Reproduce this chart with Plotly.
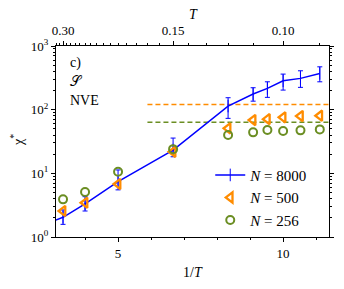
import plotly.graph_objects as go

# ---- data ----
invT_8000 = [3.0, 3.333, 4.0, 5.0, 6.667, 8.333, 9.091, 9.524, 10.0, 10.526, 11.111]
chi_8000 = [1.75, 2.04, 3.3, 7.4, 23.2, 114, 176, 216, 284, 310, 371]
chi_8000_hi = [2.2, 2.66, 4.3, 11.3, 35.8, 154, 221, 274, 362, 408, 471]
chi_8000_lo = [1.4, 1.58, 2.56, 5.5, 18.2, 73, 136, 156, 203, 224, 274]

invT_500 = [3.333, 4.0, 5.0, 6.667, 8.333, 9.091, 9.524, 10.0, 10.526, 11.111]
chi_500 = [2.56, 3.45, 6.8, 21.8, 50.9, 68.7, 71, 75.7, 79.4, 80.3]

invT_256 = [3.333, 4.0, 5.0, 6.667, 8.333, 9.091, 9.524, 10.0, 10.526, 11.111]
chi_256 = [3.9, 5.1, 10.6, 24.0, 39.9, 44.0, 47.9, 46.1, 47.3, 49.0]

plateau_x = [5.89, 11.39]
plateau_500 = [121, 121]
plateau_256 = [63.2, 63.2]

T_major = [0.30, 0.15, 0.10]
T_major_text = ["0.30", "0.15", "0.10"]
T_minor = [0.32, 0.31, 0.29, 0.28, 0.27, 0.26, 0.25, 0.24, 0.23, 0.22, 0.21, 0.20,
           0.19, 0.18, 0.17, 0.16, 0.14, 0.13, 0.12, 0.11, 0.09]

xrange_ = [3.12, 11.39]

BLUE = "#0000ff"
ORANGE = "#ff8c00"
GREEN = "#6b8e23"
FONT = "Liberation Serif"

fig = go.Figure()

fig.add_trace(go.Scatter(
    x=plateau_x, y=plateau_500, mode="lines", showlegend=False,
    line=dict(color=ORANGE, width=1.5, dash="5px,3px")))
fig.add_trace(go.Scatter(
    x=plateau_x, y=plateau_256, mode="lines", showlegend=False,
    line=dict(color=GREEN, width=1.5, dash="5px,3px")))

fig.add_trace(go.Scatter(
    x=invT_8000, y=chi_8000, mode="lines+markers", name="<i>N</i> = 8000",
    line=dict(color=BLUE, width=1.5),
    marker=dict(symbol="line-ns", size=9, line=dict(color=BLUE, width=1)),
    error_y=dict(type="data", symmetric=False,
                 array=[h - v for h, v in zip(chi_8000_hi, chi_8000)],
                 arrayminus=[v - l for l, v in zip(chi_8000_lo, chi_8000)],
                 color=BLUE, thickness=1, width=2.5)))
fig.add_trace(go.Scatter(
    x=invT_500, y=chi_500, mode="markers", name="<i>N</i> = 500",
    marker=dict(symbol="triangle-left-open", size=9, color=ORANGE,
                line=dict(color=ORANGE, width=2.3))))
fig.add_trace(go.Scatter(
    x=invT_256, y=chi_256, mode="markers", name="<i>N</i> = 256",
    marker=dict(symbol="circle-open", size=8, color=GREEN,
                line=dict(color=GREEN, width=2))))

# invisible trace for top axis
fig.add_trace(go.Scatter(x=xrange_, y=[1, 1], xaxis="x2", mode="lines",
                         line=dict(width=0), showlegend=False, hoverinfo="skip"))

# page body has an 8px default margin, so margins are shifted to compensate
fig.update_layout(
    width=344, height=289,
    margin=dict(l=48, r=23, t=38, b=60),
    paper_bgcolor="white", plot_bgcolor="white",
    font=dict(family=FONT, size=13, color="black"),
    showlegend=True,
    legend=dict(x=0.565, y=0.41, xanchor="left", yanchor="top",
                bgcolor="rgba(0,0,0,0)", font=dict(size=15),
                tracegroupgap=0),
    xaxis=dict(range=xrange_, showline=True, linecolor="black", linewidth=1,
               automargin=False,
               ticks="outside", ticklen=4, tickcolor="black",
               ticklabelstandoff=0,
               tickvals=[5, 10], ticktext=["5", "10"],
               minor=dict(tickvals=[3, 4, 6, 7, 8, 9, 11], ticks="outside",
                          ticklen=2, tickcolor="black", showgrid=False),
               showgrid=False, zeroline=False, mirror=False),
    xaxis2=dict(range=xrange_, overlaying="x", side="top", anchor="y",
                automargin=False,
                showline=True, linecolor="black", linewidth=1,
                ticks="outside", ticklen=4, tickcolor="black",
                ticklabelstandoff=1,
                tickvals=[1 / t for t in T_major], ticktext=T_major_text,
                minor=dict(tickvals=[1 / t for t in T_minor], ticks="outside",
                           ticklen=2, tickcolor="black", showgrid=False),
                showgrid=False, zeroline=False),
    yaxis=dict(type="log", range=[0, 3], showline=True, linecolor="black",
               linewidth=1, mirror="ticks", automargin=False,
               ticks="outside", ticklen=4, tickcolor="black",
               tickvals=[1, 10, 100, 1000],
               ticktext=["10<sup>0</sup>", "10<sup>1</sup>", "10<sup>2</sup>", "10<sup>3</sup>"],
               minor=dict(tickvals=[m * d for d in [1, 10, 100] for m in range(2, 10)],
                          ticks="outside", ticklen=2, tickcolor="black", showgrid=False),
               showgrid=False, zeroline=False),
)

def px(wx):
    return (wx - 56) / 273

def py(wy):
    return (237 - wy) / 191

for txt, yy in [("c)", 63), ("𝒮", 81), ("NVE", 100)]:
    fig.add_annotation(text=txt, xref="paper", yref="paper",
                       x=px(68), y=py(yy),
                       xanchor="left", yanchor="middle", showarrow=False,
                       font=dict(family=FONT, size=14, color="black"))

# axis titles
fig.add_annotation(text="<i>T</i>", xref="paper", yref="paper", x=px(193), y=py(14),
                   xanchor="center", yanchor="middle", showarrow=False,
                   font=dict(family=FONT, size=14, color="black"))
fig.add_annotation(text="1/<i>T</i>", xref="paper", yref="paper", x=px(193), y=py(272),
                   xanchor="center", yanchor="middle", showarrow=False,
                   font=dict(family=FONT, size=14, color="black"))
fig.add_annotation(text="χ<sup>*</sup>", xref="paper", yref="paper", x=px(17), y=py(140),
                   xanchor="center", yanchor="middle", showarrow=False, textangle=-90,
                   font=dict(family=FONT, size=14, color="black"))

fig.write_html("out.html")
